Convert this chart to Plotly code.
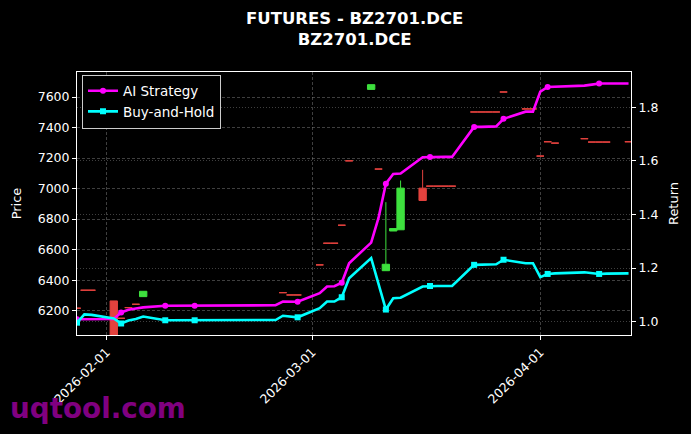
import plotly.graph_objects as go

# ---------------- data ----------------
trade_dates = ["2026-01-28", "2026-01-29", "2026-01-30", "2026-02-02", "2026-02-03", "2026-02-04",
               "2026-02-05", "2026-02-06", "2026-02-09", "2026-02-10", "2026-02-11", "2026-02-12",
               "2026-02-13", "2026-02-24", "2026-02-25", "2026-02-26", "2026-02-27", "2026-03-02",
               "2026-03-03", "2026-03-04", "2026-03-05", "2026-03-06", "2026-03-09", "2026-03-10",
               "2026-03-11", "2026-03-12", "2026-03-13", "2026-03-16", "2026-03-17", "2026-03-18",
               "2026-03-19", "2026-03-20", "2026-03-23", "2026-03-24", "2026-03-25", "2026-03-26",
               "2026-03-27", "2026-03-30", "2026-03-31", "2026-04-01", "2026-04-02", "2026-04-03",
               "2026-04-07", "2026-04-08", "2026-04-09", "2026-04-10", "2026-04-13"]

ai_strategy = [1.009, 1.009, 1.009, 1.010, 1.034, 1.044, 1.049, 1.053, 1.059, 1.059, 1.059, 1.059,
               1.059, 1.061, 1.075, 1.075, 1.074, 1.106, 1.131, 1.132, 1.145, 1.218, 1.295, 1.387,
               1.515, 1.551, 1.553, 1.614, 1.615, 1.615, 1.615, 1.615, 1.727, 1.727, 1.728, 1.729,
               1.757, 1.784, 1.784, 1.859, 1.876, 1.877, 1.881, 1.885, 1.889, 1.889, 1.889]

buy_and_hold = [0.996, 1.027, 1.025, 1.012, 0.993, 1.004, 1.010, 1.019, 1.005, 1.005, 1.005, 1.005,
                1.005, 1.006, 1.022, 1.020, 1.016, 1.050, 1.075, 1.075, 1.091, 1.162, 1.237, 1.141,
                1.045, 1.087, 1.089, 1.131, 1.133, 1.133, 1.133, 1.133, 1.212, 1.212, 1.212, 1.214,
                1.231, 1.218, 1.218, 1.166, 1.178, 1.180, 1.184, 1.182, 1.178, 1.179, 1.180]

# falling / flat candles
red_dates = ["2026-01-28", "2026-01-29", "2026-01-30", "2026-02-02", "2026-02-03", "2026-02-04",
             "2026-02-05", "2026-02-25", "2026-02-26", "2026-02-27", "2026-03-02", "2026-03-03",
             "2026-03-04", "2026-03-05", "2026-03-06", "2026-03-10", "2026-03-16", "2026-03-17",
             "2026-03-18", "2026-03-19", "2026-03-20", "2026-03-23", "2026-03-24", "2026-03-25",
             "2026-03-26", "2026-03-27", "2026-03-30", "2026-03-31", "2026-04-01", "2026-04-02",
             "2026-04-03", "2026-04-07", "2026-04-08", "2026-04-09", "2026-04-10", "2026-04-13"]
red_open = [6216, 6334, 6334, 6264, 6150, 6220, 6242, 6318, 6303, 6303, 6500, 6642, 6642, 6760, 7182,
            7128, 7003, 7016, 7016, 7016, 7016, 7502, 7502, 7502, 7502, 7633, 7522, 7522, 7213, 7307,
            7298, 7327, 7305, 7305, 7305, 7307]
red_high = [6216, 6334, 6334, 6264, 6150, 6220, 6242, 6318, 6303, 6303, 6500, 6642, 6642, 6760, 7182,
            7128, 7123, 7016, 7016, 7016, 7016, 7502, 7502, 7502, 7502, 7633, 7522, 7522, 7213, 7307,
            7298, 7327, 7305, 7305, 7305, 7307]
red_low = [6216, 6334, 6334, 5990, 6150, 6220, 6242, 6318, 6303, 6303, 6500, 6642, 6642, 6760, 7182,
           7128, 6922, 7016, 7016, 7016, 7016, 7502, 7502, 7502, 7502, 7633, 7522, 7522, 7213, 7307,
           7298, 7327, 7305, 7305, 7305, 7307]
red_close = [6216, 6334, 6334, 6000, 6150, 6220, 6242, 6318, 6303, 6303, 6500, 6642, 6642, 6760, 7182,
             7128, 6922, 7016, 7016, 7016, 7016, 7502, 7502, 7502, 7502, 7633, 7522, 7522, 7213, 7307,
             7298, 7327, 7305, 7305, 7305, 7307]

# rising candles
green_dates = ["2026-02-06", "2026-03-09", "2026-03-11", "2026-03-12", "2026-03-13"]
green_open = [6292, 7650, 6462, 6722, 6730]
green_high = [6327, 7681, 6911, 6738, 7053]
green_low = [6292, 7650, 6462, 6722, 6730]
green_close = [6327, 7681, 6504, 6738, 7003]

price_ticks = [6200, 6400, 6600, 6800, 7000, 7200, 7400, 7600]
return_ticks = [1.0, 1.2, 1.4, 1.6, 1.8]
date_ticks = ["2026-02-01", "2026-03-01", "2026-04-01"]

# ---------------- style ----------------
RED = "#e3423e"
GREEN = "#3ee03e"
MAG = "#ff00ff"
CYA = "#00ffff"
FONT = "DejaVu Sans"
GRID = "rgba(140,140,140,0.45)"

W, H = 691, 434
L, R, T, B = 77, 60, 72, 99
pw, ph = W - L - R, H - T - B

fig = go.Figure()

fig.add_trace(go.Candlestick(
    x=red_dates, open=red_open, high=red_high, low=red_low, close=red_close,
    increasing=dict(line=dict(color=RED, width=1), fillcolor=RED),
    decreasing=dict(line=dict(color=RED, width=1), fillcolor=RED),
    showlegend=False, hoverinfo="skip", yaxis="y"))
fig.add_trace(go.Candlestick(
    x=green_dates, open=green_open, high=green_high, low=green_low, close=green_close,
    increasing=dict(line=dict(color=GREEN, width=1), fillcolor=GREEN),
    decreasing=dict(line=dict(color=GREEN, width=1), fillcolor=GREEN),
    showlegend=False, hoverinfo="skip", yaxis="y"))

mark_every = 4
for name, vals, col, sym in [("AI Strategy", ai_strategy, MAG, "circle"),
                             ("Buy-and-Hold", buy_and_hold, CYA, "square")]:
    fig.add_trace(go.Scatter(x=trade_dates, y=vals, mode="lines", yaxis="y2",
                             line=dict(color=col, width=2.6), showlegend=False,
                             legendgroup=name))
    fig.add_trace(go.Scatter(x=trade_dates[::mark_every], y=vals[::mark_every], mode="markers",
                             yaxis="y2", marker=dict(color=col, size=6, symbol=sym),
                             showlegend=False, legendgroup=name))
    fig.add_trace(go.Scatter(x=[None], y=[None], mode="lines+markers", yaxis="y2", name=name,
                             line=dict(color=col, width=2.6),
                             marker=dict(color=col, size=6, symbol=sym), legendgroup=name))

axis_common = dict(showline=True, linecolor="white", linewidth=1, ticks="outside",
                   tickcolor="white", ticklen=4, tickfont=dict(family=FONT, size=12.5, color="white"),
                   zeroline=False)

fig.update_layout(
    width=W, height=H,
    margin=dict(l=L, r=R, t=T, b=B, pad=0),
    paper_bgcolor="black", plot_bgcolor="black",
    font=dict(family=FONT, color="white", size=12.5),
    boxgap=0, boxgroupgap=0,
    xaxis=dict(type="date", range=["2026-01-28", "2026-04-13 08:00"],
               tickvals=date_ticks, ticktext=date_ticks, tickangle=-45,
               mirror=True, showgrid=True, gridcolor=GRID, griddash="3px,2px", gridwidth=0.7,
               rangeslider=dict(visible=False), **axis_common),
    yaxis=dict(range=[6040.6, 7764], tickvals=price_ticks,
               title=dict(text="Price", font=dict(family=FONT, size=13, color="white"), standoff=13),
               showgrid=True, gridcolor=GRID, griddash="3px,2px", gridwidth=0.7, **axis_common),
    yaxis2=dict(range=[0.950, 1.932], tickvals=return_ticks, tickformat=".1f",
                overlaying="y", side="right",
                title=dict(text="Return", font=dict(family=FONT, size=13, color="white"), standoff=11),
                showgrid=True, gridcolor=GRID, griddash="1px,2px", gridwidth=0.7, **axis_common),
    legend=dict(x=(82 - L) / pw, y=1 - (74.5 - T) / ph, xanchor="left", yanchor="top",
                bgcolor="black", bordercolor="#cccccc", borderwidth=1,
                font=dict(family=FONT, size=13.5, color="white"), tracegroupgap=0),
    showlegend=True,
)

# two-line bold title centred over the plotting area
fig.add_annotation(text="<b>FUTURES - BZ2701.DCE<br>BZ2701.DCE</b>", xref="paper", yref="paper",
                   x=0.5, y=(H - B - 29.5) / ph, xanchor="center", yanchor="middle",
                   showarrow=False, font=dict(family=FONT, size=16.5, color="white"))

fig.add_annotation(text="<b>uqtool.com</b>", xref="paper", yref="paper",
                   x=(8 - L) / pw, y=(H - B - 408) / ph, xanchor="left", yanchor="middle",
                   showarrow=False, font=dict(family=FONT, size=27.8, color="#800080"))

fig.write_html("out.html")
